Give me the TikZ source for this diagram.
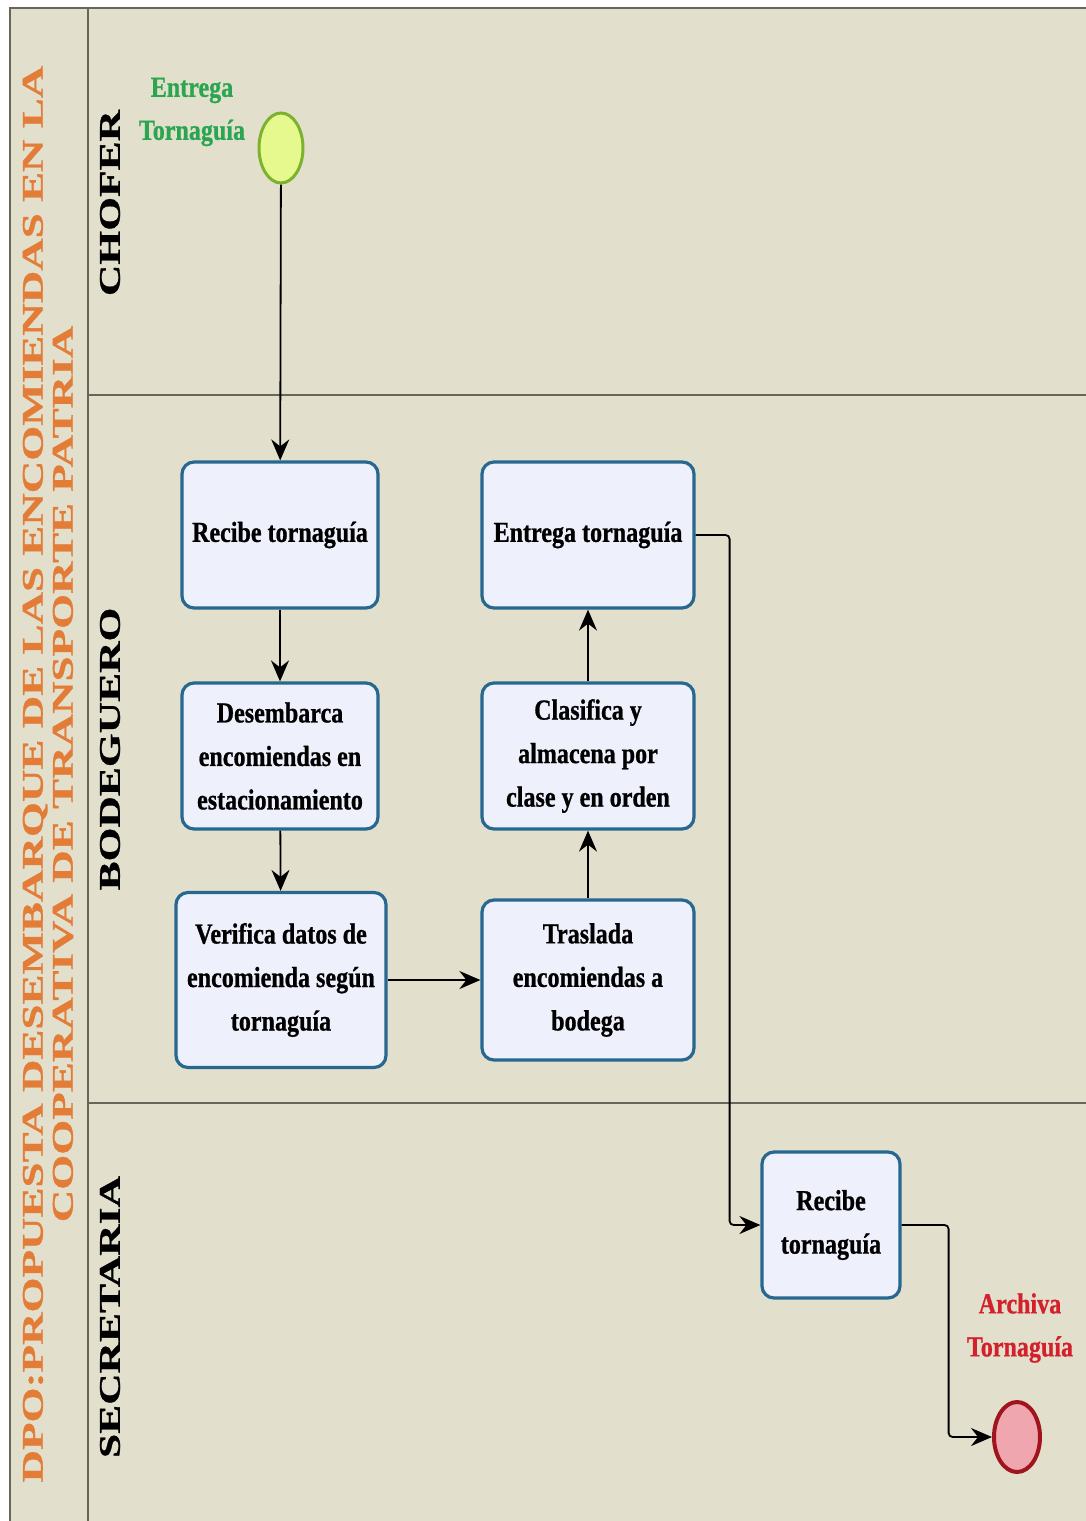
\documentclass[tikz,border=0pt]{standalone}
\usepackage{fontspec}
\setmainfont{Liberation Serif}
\newfontfamily\boxfont{Liberation Serif}[FakeStretch=0.83,FakeBold=0.8]
\newfontfamily\widefont{Liberation Serif}[FakeStretch=1.45,FakeBold=1]
\newfontfamily\titlefont{Liberation Serif}[FakeStretch=1.5,FakeBold=1]
\usetikzlibrary{arrows.meta,shapes.geometric}
\definecolor{bg}{HTML}{E2DFCC}
\definecolor{lanegray}{HTML}{66665A}
\definecolor{taskfill}{HTML}{EEF0FB}
\definecolor{taskborder}{HTML}{266890}
\definecolor{titleorange}{HTML}{E27C36}
\definecolor{startfill}{HTML}{E6F98E}
\definecolor{startborder}{HTML}{7DB22F}
\definecolor{endfill}{HTML}{F0A6AE}
\definecolor{endborder}{HTML}{A0141E}
\definecolor{startgreen}{HTML}{2BA650}
\definecolor{endred}{HTML}{D4202C}
\begin{document}
\begin{tikzpicture}[x=1pt,y=-1pt,
  task/.style={draw=taskborder, line width=3.2pt, fill=taskfill, rounded corners=12pt,
    align=center, inner sep=0pt, font=\boxfont\bfseries\fontsize{29}{43.5}\selectfont},
  flow/.style={draw=black, line width=1.8pt, rounded corners=4pt,
    -{Stealth[length=21pt,width=18pt,inset=7pt]}},
  lanelabel/.style={rotate=90, text=black, font=\widefont\bfseries\fontsize{30}{30}\selectfont},
  evlabel/.style={align=center, font=\boxfont\bfseries\fontsize{29}{43}\selectfont}
]
\fill[white] (0,0) rectangle (1086,1521);
\useasboundingbox (0,0) rectangle (1086,1521);
\fill[bg] (10,8) rectangle (1086,1521);
\draw[lanegray, line width=2.2pt] (1086,8) -- (10,8) -- (10,1521);
\draw[lanegray, line width=2.2pt] (88,8) -- (88,1521);
\draw[lanegray, line width=2.2pt] (88,395) -- (1086,395);
\draw[lanegray, line width=2.2pt] (88,1103) -- (1086,1103);

% title
\node[rotate=90, align=center, text=titleorange,
  font=\titlefont\bfseries\fontsize{30}{30}\selectfont] (title) at (48,774)
  {DPO:PROPUESTA DESEMBARQUE DE LAS ENCOMIENDAS EN LA\\COOPERATIVA DE TRANSPORTE PATRIA};

% lane labels
\node[lanelabel] (lchofer) at (110,203) {CHOFER};
\node[lanelabel] (lbodeguero) at (110,749) {BODEGUERO};
\node[lanelabel] (lsecretaria) at (110,1317) {SECRETARIA};

% events
\node[ellipse, draw=startborder, line width=3pt, fill=startfill,
  minimum width=44pt, minimum height=70pt, inner sep=0pt] (start) at (281,148) {};
\node[evlabel, text=startgreen] (startlbl) at (192,112) {Entrega\\Tornaguía};
\node[ellipse, draw=endborder, line width=4pt, fill=endfill,
  minimum width=46pt, minimum height=70pt, inner sep=0pt] (end) at (1017,1437) {};
\node[evlabel, text=endred] (endlbl) at (1020,1328) {Archiva\\Tornaguía};

% tasks
\node[task, minimum width=196pt, minimum height=146pt] (rec1) at (280,535) {Recibe tornaguía};
\node[task, minimum width=196pt, minimum height=146pt] (des) at (280,756) {Desembarca\\encomiendas en\\estacionamiento};
\node[task, minimum width=210pt, minimum height=175pt] (ver) at (281,980) {Verifica datos de\\encomienda según\\tornaguía};
\node[task, minimum width=212pt, minimum height=160pt] (tras) at (588,980) {Traslada\\encomiendas a\\bodega};
\node[task, minimum width=212pt, minimum height=146pt] (clas) at (588,756) {Clasifica y\\almacena por\\clase y en orden};
\node[task, minimum width=212pt, minimum height=146pt] (ent) at (588,535) {Entrega tornaguía};
\node[task, minimum width=138pt, minimum height=146pt] (rec2) at (831,1225) {Recibe\\tornaguía};

% flows
\draw[flow] (start) -- (rec1);
\draw[flow] (rec1) -- (des);
\draw[flow] (des) -- (ver);
\draw[flow] (ver) -- (tras);
\draw[flow] (tras) -- (clas);
\draw[flow] (clas) -- (ent);
\draw[flow] (ent.east) -- ++(34,0) |- (rec2.west);
\draw[flow] (rec2.east) -- ++(47,0) |- (end.west);
\end{tikzpicture}
\end{document}
